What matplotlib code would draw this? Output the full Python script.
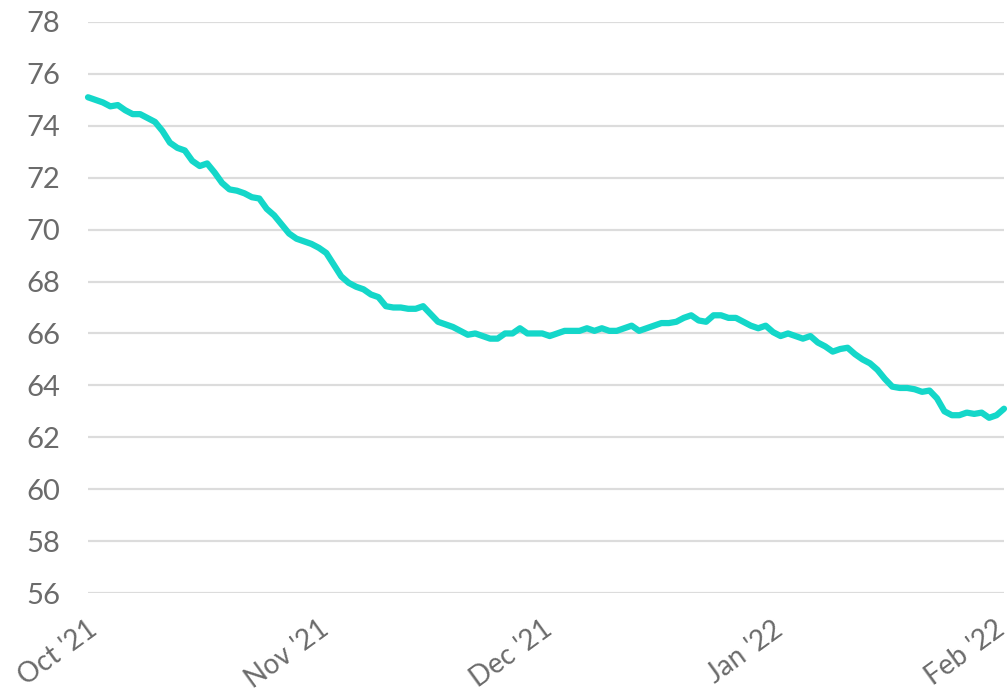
import matplotlib
matplotlib.use("Agg")
import matplotlib.pyplot as plt
import matplotlib.transforms as mtransforms
import numpy as np
import pandas as pd

# Daily index values, 1 Oct 2021 - 1 Feb 2022
start_date = "2021-10-01"
values = [
    75.1, 75.0, 74.9, 74.75, 74.8, 74.6, 74.45, 74.45, 74.3, 74.15,
    73.8, 73.35, 73.15, 73.05, 72.65, 72.45, 72.55, 72.2, 71.8, 71.55,
    71.5, 71.4, 71.25, 71.2, 70.8, 70.55, 70.2, 69.85, 69.65, 69.55,
    69.45, 69.3, 69.1, 68.65, 68.2, 67.95, 67.8, 67.7, 67.5, 67.4,
    67.05, 67.0, 67.0, 66.95, 66.95, 67.05, 66.75, 66.45, 66.35, 66.25,
    66.1, 65.95, 66.0, 65.9, 65.8, 65.8, 66.0, 66.0, 66.2, 66.0,
    66.0, 66.0, 65.9, 66.0, 66.1, 66.1, 66.1, 66.2, 66.1, 66.2,
    66.1, 66.1, 66.2, 66.3, 66.1, 66.2, 66.3, 66.4, 66.4, 66.45,
    66.6, 66.7, 66.5, 66.45, 66.7, 66.7, 66.6, 66.6, 66.45, 66.3,
    66.2, 66.3, 66.05, 65.9, 66.0, 65.9, 65.8, 65.9, 65.65, 65.5,
    65.3, 65.4, 65.45, 65.2, 65.0, 64.85, 64.6, 64.25, 63.95, 63.9,
    63.9, 63.85, 63.75, 63.8, 63.5, 63.0, 62.85, 62.85, 62.95, 62.9,
    62.95, 62.75, 62.85, 63.1,
]
dates = pd.date_range(start_date, periods=len(values), freq="D")

tick_dates = pd.to_datetime(["2021-10-01", "2021-11-01", "2021-12-01", "2022-01-01", "2022-02-01"])
tick_labels = ["Oct '21", "Nov '21", "Dec '21", "Jan '22", "Feb '22"]
y_ticks = list(range(56, 79, 2))

line_color = "#14d7c9"
text_color = "#6b6b6b"
grid_color = "#dcdcdc"

plt.rcParams["font.family"] = ["Lato", "DejaVu Sans"]

fig = plt.figure(figsize=(10.08, 6.95), dpi=100)
ax = fig.add_axes([88 / 1008, (695 - 593) / 695, 916 / 1008, 571 / 695])

ax.plot(dates, values, color=line_color, linewidth=4.5, solid_joinstyle="round",
        solid_capstyle="round", zorder=3, clip_on=False)

ax.set_ylim(56, 78)
ax.set_xlim(tick_dates[0], tick_dates[-1])
ax.set_yticks(y_ticks)
ax.set_yticklabels([str(v) for v in y_ticks])
ax.set_xticks(tick_dates)
ax.set_xticklabels(tick_labels)

ax.grid(axis="y", color=grid_color, linewidth=1.6, zorder=0)
ax.grid(axis="x", visible=False)
for s in ax.spines.values():
    s.set_visible(False)

ax.tick_params(axis="y", length=0, pad=20, labelsize=21, labelcolor=text_color)
ax.tick_params(axis="x", length=0, pad=0, labelsize=20, labelcolor=text_color)

# rotated month labels hang below the axis, ending near their tick;
# the last one is nudged left to stay inside the figure
labels = ax.get_xticklabels()
for i, lbl in enumerate(labels):
    dx = -0.01 if i < len(labels) - 1 else -0.10
    shift = mtransforms.ScaledTranslation(dx, -0.23, fig.dpi_scale_trans)
    lbl.set_rotation(36)
    lbl.set_rotation_mode("anchor")
    lbl.set_ha("right")
    lbl.set_va("top")
    lbl.set_transform(lbl.get_transform() + shift)

fig.savefig("out.png", dpi=100, facecolor="white")
